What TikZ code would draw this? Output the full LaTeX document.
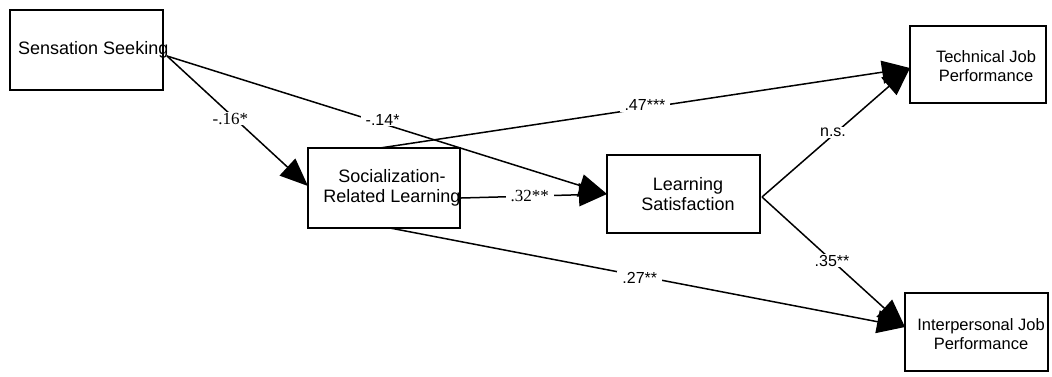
\documentclass[tikz,border=0pt]{standalone}
\usepackage{fontspec}
\setmainfont{Liberation Sans}
\newfontfamily\lserif{Liberation Serif}
\usetikzlibrary{arrows.meta}
\begin{document}
\begin{tikzpicture}[x=1pt,y=-1pt,
  box/.style={draw, line width=1.6pt, inner sep=0pt},
  bigtxt/.style={align=center, inner sep=0pt, font=\fontsize{18}{19.5}\selectfont},
  smalltxt/.style={align=center, inner sep=0pt, font=\fontsize{16.5}{19}\selectfont},
  arr/.style={line width=1.5pt, -{Triangle[length=28pt,width=23pt]}},
  lab/.style={fill=white, inner xsep=5pt, inner ysep=1pt, font=\fontsize{16}{18}\selectfont},
  slab/.style={lab, font=\lserif\fontsize{17}{18}\selectfont}]
\useasboundingbox (0,0) rectangle (1052,376);
% boxes
\node[box, minimum width=153pt, minimum height=80pt] (ss) at (86.5,50) {};
\node[box, minimum width=152pt, minimum height=80pt] (srl) at (384,188) {};
\node[box, minimum width=153pt, minimum height=78pt] (ls) at (683.5,194) {};
\node[box, minimum width=136pt, minimum height=77pt] (tjp) at (978,64.5) {};
\node[box, minimum width=143pt, minimum height=78pt] (ijp) at (976.5,332) {};
% texts
\node[bigtxt, anchor=west] (ssT) at (18,50) {Sensation Seeking};
\node[bigtxt] (srlT) at (392,188) {Socialization-\\Related Learning};
\node[bigtxt] (lsT) at (688,194) {Learning\\Satisfaction};
\node[smalltxt] (tjpT) at (986,66) {Technical Job\\Performance};
\node[smalltxt] (ijpT) at (981,334) {Interpersonal Job\\Performance};
% ports
\coordinate (ssout) at (167,56);
\coordinate (srlin) at (308,186);
\coordinate (srltop) at (380,148);
\coordinate (srlright) at (461,198);
\coordinate (srlbot) at (390,228);
\coordinate (lsin) at (607,194);
\coordinate (lsout) at (762,197);
\coordinate (tjpin) at (910,68);
\coordinate (ijpin) at (905,327);
% connectors
\draw[arr] (ssout) -- node[slab, pos=0.45, yshift=-4pt] {-.16*} (srlin);
\draw[arr] (ssout) -- node[lab, pos=0.49, yshift=4pt] {-.14*} (lsin);
\draw[arr] (srltop) -- node[lab, pos=0.5, yshift=3pt] {.47***} (tjpin);
\draw[arr] (srlright) -- node[slab, pos=0.47] {.32**} (lsin);
\draw[arr] (srlbot) -- node[lab, pos=0.485, yshift=-2pt] {.27**} (ijpin);
\draw[arr] (lsout) -- node[lab, pos=0.5, xshift=-3pt] {n.s.} (tjpin);
\draw[arr] (lsout) -- node[lab, pos=0.49] {.35**} (ijpin);
\end{tikzpicture}
\end{document}
